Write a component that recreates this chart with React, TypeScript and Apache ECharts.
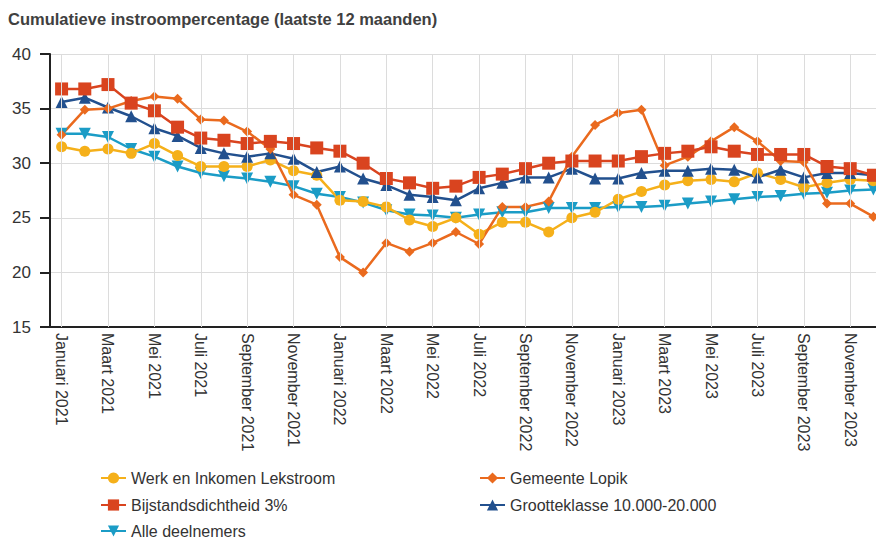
import React, { useEffect, useRef } from "react";
import * as echarts from "echarts";

const months = ["Januari", "Februari", "Maart", "April", "Mei", "Juni", "Juli", "Augustus", "September", "Oktober", "November", "December"];
const years = [2021, 2022, 2023];
const categories: string[] = [];
years.forEach((y) => months.forEach((m) => categories.push(`${m} ${y}`)));

const werkEnInkomen = [31.5, 31.1, 31.3, 30.9, 31.8, 30.7, 29.7, 29.7, 29.7, 30.3, 29.3, 28.9, 26.6, 26.5, 26.0, 24.8, 24.2, 25.0, 23.5, 24.6, 24.6, 23.7, 25.0, 25.5, 26.7, 27.4, 28.0, 28.4, 28.5, 28.3, 29.1, 28.5, 27.8, 28.2, 28.5, 28.4];
const gemeenteLopik = [32.6, 34.9, 35.0, 35.7, 36.1, 35.9, 34.0, 33.9, 32.9, 31.3, 27.1, 26.2, 21.4, 20.0, 22.7, 21.9, 22.7, 23.7, 22.6, 26.0, 26.0, 26.5, 30.6, 33.5, 34.6, 34.9, 29.8, 30.6, 32.0, 33.3, 32.0, 30.2, 30.1, 26.3, 26.3, 25.1];
const bijstandsdichtheid = [36.8, 36.8, 37.2, 35.5, 34.8, 33.3, 32.3, 32.1, 31.8, 32.0, 31.8, 31.4, 31.1, 30.0, 28.6, 28.2, 27.7, 27.9, 28.7, 29.0, 29.5, 30.0, 30.2, 30.2, 30.2, 30.6, 30.9, 31.1, 31.5, 31.1, 30.8, 30.8, 30.8, 29.7, 29.5, 28.9];
const grootteklasse = [35.6, 36.0, 35.1, 34.3, 33.2, 32.5, 31.4, 30.9, 30.6, 30.9, 30.4, 29.2, 29.7, 28.6, 28.0, 27.1, 26.9, 26.6, 27.7, 28.2, 28.7, 28.7, 29.5, 28.6, 28.6, 29.1, 29.3, 29.3, 29.5, 29.4, 28.7, 29.4, 28.7, 29.1, 29.1, 28.9];
const alleDeelnemers = [32.7, 32.7, 32.4, 31.3, 30.6, 29.7, 29.1, 28.8, 28.6, 28.3, 27.9, 27.2, 26.9, 26.4, 25.7, 25.3, 25.2, 25.0, 25.3, 25.5, 25.5, 25.9, 25.9, 25.9, 26.0, 26.0, 26.1, 26.3, 26.5, 26.7, 26.9, 27.0, 27.2, 27.3, 27.5, 27.6];

const titleText = "Cumulatieve instroompercentage (laatste 12 maanden)";
const FONT = "'Liberation Sans', Arial, sans-serif";

const legendItems = [
  { name: "Werk en Inkomen Lekstroom", col: 0, row: 0 },
  { name: "Gemeente Lopik", col: 1, row: 0 },
  { name: "Bijstandsdichtheid 3%", col: 0, row: 1 },
  { name: "Grootteklasse 10.000-20.000", col: 1, row: 1 },
  { name: "Alle deelnemers", col: 0, row: 2 },
];

export default function App() {
  const ref = useRef<HTMLDivElement>(null);
  useEffect(() => {
    if (!ref.current) return;
    const chart = echarts.init(ref.current, undefined, { renderer: "svg" });
    const gridLineCats = categories.filter((_, i) => i % 2 === 0);
    const mk = (name: string, data: number[], color: string, symbol: string, size: number, extra: any = {}) => ({
      name,
      type: "line",
      data,
      symbol,
      symbolSize: size,
      lineStyle: { color, width: 2.5 },
      itemStyle: { color, borderColor: color, borderWidth: 0 },
      emphasis: { disabled: true },
      ...extra,
    });
    const colLeft = [100, 479];
    const rowCenter = [478, 505, 531];
    chart.setOption({
      animation: false,
      textStyle: { fontFamily: FONT },
      title: {
        text: titleText,
        left: 8,
        top: 10,
        padding: 0,
        textStyle: { fontSize: 16.5, fontWeight: "bold", color: "#404040", fontFamily: FONT },
      },
      grid: { left: 50, top: 54, width: 835, height: 273, containLabel: false, outerBoundsMode: "none" },
      legend: legendItems.map((it) => ({
        data: [it.name],
        orient: "horizontal",
        left: colLeft[it.col],
        top: rowCenter[it.row] - 8,
        padding: 0,
        itemWidth: 25,
        itemHeight: 14,
        textStyle: { fontSize: 16, color: "#333", lineHeight: 16, fontFamily: FONT },
      })),
      xAxis: {
        type: "category",
        data: categories,
        boundaryGap: true,
        axisLine: { lineStyle: { color: "#222", width: 2 } },
        axisTick: { show: false },
        splitLine: { show: false },
        axisLabel: {
          interval: 1,
          rotate: -90,
          margin: 6,
          fontSize: 16,
          color: "#333",
          fontFamily: FONT,
        },
      },
      yAxis: {
        type: "value",
        min: 15,
        max: 40,
        interval: 5,
        axisLine: { show: true, lineStyle: { color: "#222", width: 2 } },
        axisTick: { show: true, length: 10, lineStyle: { color: "#222", width: 2 } },
        splitLine: { show: true, lineStyle: { color: "#dcdcdc", width: 1 } },
        axisLabel: { fontSize: 17, color: "#333", margin: 19, fontFamily: FONT },
      },
      series: [
        {
          name: "grid",
          type: "line",
          data: [],
          silent: true,
          z: 0,
          markLine: {
            silent: true,
            symbol: "none",
            label: { show: false },
            lineStyle: { color: "#dcdcdc", width: 1, type: "solid" },
            emphasis: { disabled: true },
            data: gridLineCats.map((c) => ({ xAxis: c })),
          },
        },
        mk("Alle deelnemers", alleDeelnemers, "#1b9cc6", "triangle", 12, { symbolRotate: 180 }),
        mk("Werk en Inkomen Lekstroom", werkEnInkomen, "#f5b01a", "circle", 11),
        mk("Grootteklasse 10.000-20.000", grootteklasse, "#22508e", "triangle", 12),
        mk("Gemeente Lopik", gemeenteLopik, "#ea6a1e", "diamond", 10),
        mk("Bijstandsdichtheid 3%", bijstandsdichtheid, "#d9441f", "rect", 13),
      ],
    });
    return () => chart.dispose();
  }, []);
  return (
    <div
      ref={ref}
      style={{ position: "absolute", left: 0, top: 0, width: 876, height: 540, background: "#fff" }}
    />
  );
}
